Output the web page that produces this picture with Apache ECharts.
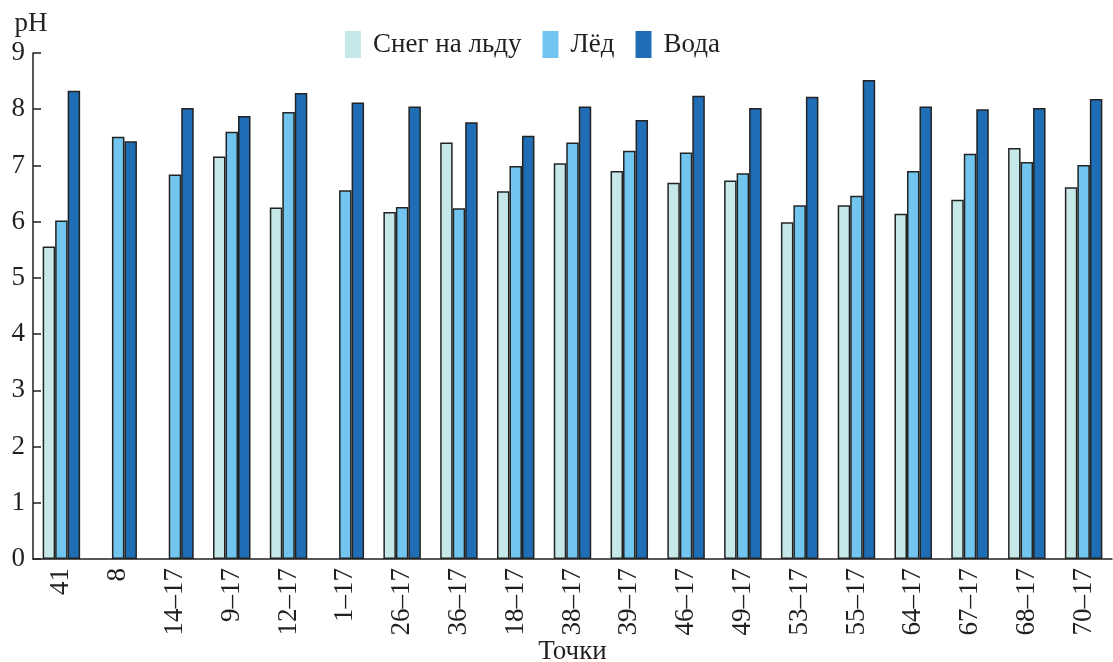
<!DOCTYPE html>
<html>
<head>
<meta charset="utf-8">
<script src="https://cdn.jsdelivr.net/npm/echarts@6/dist/echarts.min.js"></script>
<style>html,body{margin:0;padding:0;background:#fff;}#chart{width:1113px;height:662px;}</style>
</head>
<body>
<div id="chart"></div>
<script>
const categories = ['41','8','14–17','9–17','12–17','1–17','26–17','36–17','18–17','38–17','39–17','46–17','49–17','53–17','55–17','64–17','67–17','68–17','70–17'];
const snow = [5.56, null, null, 7.16, 6.25, null, 6.17, 7.41, 6.54, 7.04, 6.90, 6.69, 6.73, 5.99, 6.29, 6.14, 6.39, 7.31, 6.61];
const ice = [6.02, 7.51, 6.84, 7.60, 7.95, 6.56, 6.26, 6.24, 6.99, 7.41, 7.26, 7.23, 6.86, 6.29, 6.46, 6.90, 7.21, 7.06, 7.01];
const water = [8.33, 7.43, 8.02, 7.88, 8.29, 8.12, 8.05, 7.77, 7.53, 8.05, 7.81, 8.24, 8.02, 8.22, 8.52, 8.05, 8.00, 8.02, 8.18];
const seriesNames = ['Снег на льду', 'Лёд', 'Вода'];
const yTicks = {min: 0, max: 9, interval: 1};

const font = '"Liberation Serif", "Times New Roman", serif';
const colors = ['#c6e8e8', '#72c5ee', '#1f6db5'];
const chart = echarts.init(document.getElementById('chart'));
const mk = (name, data, i) => ({
  name, type: 'bar', data,
  barGap: '0%', barCategoryGap: '34%',
  itemStyle: {color: colors[i], borderColor: '#232323', borderWidth: 1.5},
  emphasis: {disabled: true}
});
chart.setOption({
  animation: false,
  textStyle: {fontFamily: font, color: '#231f20'},
  legend: {
    top: 26, left: 340, itemWidth: 16, itemHeight: 27, itemGap: 21, icon: 'rect',
    itemStyle: {borderWidth: 0},
    textStyle: {fontFamily: font, fontSize: 27, color: '#231f20', padding: [0, 0, 0, 7]},
    data: seriesNames
  },
  grid: {left: 33, right: 1, top: 53, bottom: 103, containLabel: false, outerBoundsMode: 'none'},
  xAxis: {
    type: 'category', data: categories,
    name: 'Точки', nameLocation: 'middle', nameGap: 79, nameMoveOverlap: false,
    nameTextStyle: {fontFamily: font, fontSize: 27, color: '#231f20'},
    axisLine: {lineStyle: {color: '#231f20', width: 1.5}},
    axisTick: {inside: true, length: 10, alignWithLabel: false, lineStyle: {color: '#231f20', width: 1.5}},
    axisLabel: {rotate: 90, fontFamily: font, fontSize: 27, color: '#231f20', margin: 9, interval: 0}
  },
  yAxis: {
    type: 'value', min: yTicks.min, max: yTicks.max, interval: yTicks.interval,
    name: 'pH', nameLocation: 'end', nameGap: 16, nameMoveOverlap: false,
    nameTextStyle: {fontFamily: font, fontSize: 27, color: '#231f20', align: 'center', padding: [0, 0, 0, -4]},
    axisLine: {show: true, lineStyle: {color: '#231f20', width: 1.5}},
    axisTick: {show: true, inside: true, length: 8, lineStyle: {color: '#231f20', width: 1.5}},
    splitLine: {show: false},
    axisLabel: {fontFamily: font, fontSize: 27, color: '#231f20', margin: 8}
  },
  series: [mk(seriesNames[0], snow, 0), mk(seriesNames[1], ice, 1), mk(seriesNames[2], water, 2)]
});
</script>
</body>
</html>
